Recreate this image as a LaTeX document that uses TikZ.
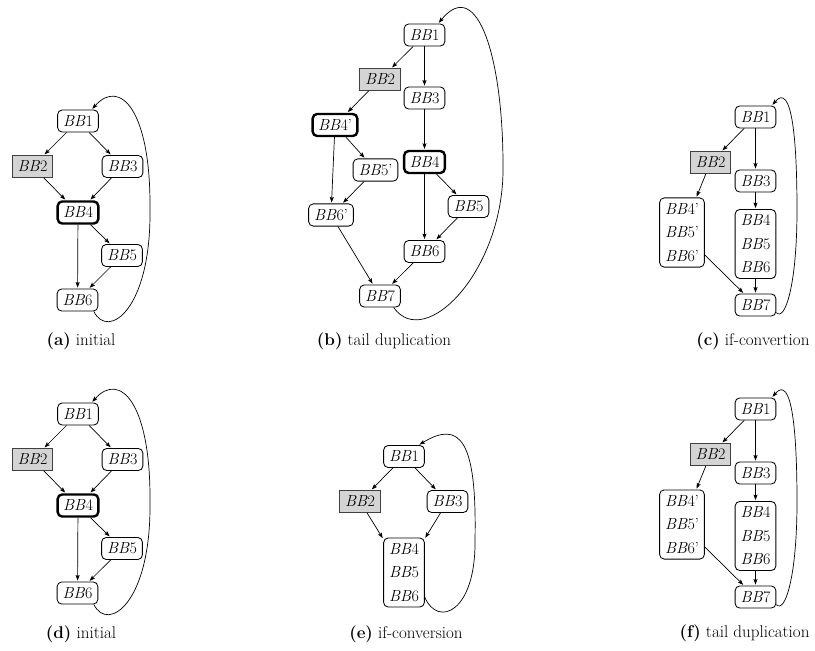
\documentclass[tikz,border=0pt]{standalone}
\usetikzlibrary{arrows.meta}
\newcommand\nodefnt{\fontsize{16}{23.5}\selectfont}
\newcommand\capfnt{\fontsize{17}{21}\selectfont}
\newcommand\bbn[1]{\textit{BB}#1}
\tikzset{
 bb/.style={draw, rounded corners=4.5pt, line width=0.85pt, inner xsep=5.4pt, inner ysep=5.4pt, minimum height=22pt, font=\nodefnt, align=left},
 hot/.style={bb, line width=2.4pt},
 gbox/.style={draw=black!75, fill=black!17, line width=0.7pt, inner xsep=5.4pt, inner ysep=5.4pt, minimum height=22pt, font=\nodefnt},
 arr/.style={-{Stealth[length=5.5pt,width=4pt,inset=1pt]}, line width=0.7pt, shorten >=1pt},
 capt/.style={font=\capfnt}
}
% panel type A: initial
\newcommand\panelA[2]{%
 \node[bb]   (#1n1) at (78,121)    {\bbn1};
 \node[gbox] (#1n2) at (32.5,166.5) {\bbn2};
 \node[bb]   (#1n3) at (122.5,166.5) {\bbn3};
 \node[hot]  (#1n4) at (78,212.5)  {\bbn4};
 \node[bb]   (#1n5) at (122,255.5) {\bbn5};
 \node[bb]   (#1n6) at (77.5,300)  {\bbn6};
 \coordinate (#1m) at (150,210);
 \draw[arr] (#1n1) -- (#1n2);
 \draw[arr] (#1n1) -- (#1n3);
 \draw[arr] (#1n2) -- (#1n4);
 \draw[arr] (#1n3) -- (#1n4);
 \draw[arr] (#1n4) -- (#1n5);
 \draw[arr] (#1n4) -- (#1n6);
 \draw[arr] (#1n5) -- (#1n6);
 \draw[arr] (#1n6.-35) .. controls (108,340) and (151,310) .. (#1m)
   .. controls (151,110) and (120,78) .. (#1n1.40);
 \node[capt] (#1cap) at (81,341) {\textbf{(#1)} #2};
}
% panel type C: if-conversion with duplicated tail
\newcommand\panelC[3]{%
 \node[bb]   (#1n1) at (755.5,117)   {\bbn1};
 \node[gbox] (#1n2) at (710.5,162.5) {\bbn2};
 \node[bb]   (#1n3) at (755.5,181)   {\bbn3};
 \node[bb]   (#1nl) at (682,232.5)   {\bbn4'\\ \bbn5'\\ \bbn6'};
 \node[bb]   (#1nr) at (755.5,244)   {\bbn4\\ \bbn5\\ \bbn6};
 \node[bb]   (#1n7) at (755.5,305)   {\bbn7};
 \coordinate (#1m) at (797,210);
 \draw[arr] (#1n1) -- (#1n2);
 \draw[arr] (#1n1) -- (#1n3);
 \draw[arr] (#1n3) -- (#1nr);
 \draw[arr] (#1n2) -- (#1nl);
 \draw[arr] (#1nr) -- (#1n7);
 \draw[arr] (#1nl) -- (#1n7);
 \draw[arr] (#1n7.-20) .. controls (785,322) and (797,285) .. (#1m)
   .. controls (797,140) and (792,82) .. (#1n1.35);
 \node[capt, anchor=east] (#1cap) at (#3,341) {\textbf{(#1)} #2};
}
\begin{document}
\begin{tikzpicture}[x=1pt,y=-1pt]
\useasboundingbox (0,0) rectangle (815,651);
% (a)
\panelA{a}{initial}
% (d)
\begin{scope}[yshift=-293pt]
\panelA{d}{initial}
\end{scope}
% (c)
\panelC{c}{if-convertion}{813}
% (f)
\begin{scope}[yshift=-292pt]
\panelC{f}{tail duplication}{813}
\end{scope}
% (b)
\node[bb]   (b1)  at (424.5,35)  {\bbn1};
\node[gbox] (b2)  at (380,79.5)  {\bbn2};
\node[bb]   (b3)  at (424.5,98)  {\bbn3};
\node[hot]  (b4p) at (335,125)   {\bbn4'};
\node[hot]  (b4)  at (424.5,162) {\bbn4};
\node[bb]   (b5p) at (375.5,170) {\bbn5'};
\node[bb]   (b5)  at (468.5,206.5) {\bbn5};
\node[bb]   (b6p) at (331,215)   {\bbn6'};
\node[bb]   (b6)  at (424.5,251.5) {\bbn6};
\node[bb]   (b7)  at (380,296)   {\bbn7};
\coordinate (bm) at (503,165);
\draw[arr] (b1) -- (b2);
\draw[arr] (b1) -- (b3);
\draw[arr] (b2) -- (b4p);
\draw[arr] (b3) -- (b4);
\draw[arr] (b4p) -- (b5p);
\draw[arr] (b4p) -- (b6p);
\draw[arr] (b5p) -- (b6p);
\draw[arr] (b4) -- (b5);
\draw[arr] (b4) -- (b6);
\draw[arr] (b5) -- (b6);
\draw[arr] (b6p) -- (b7);
\draw[arr] (b6) -- (b7);
\draw[arr] (b7.-40) .. controls (425,352) and (505,270) .. (bm)
  .. controls (503,60) and (478,-25) .. (b1.40);
\node[capt] (bcap) at (384,341) {\textbf{(b)} tail duplication};
% (e)
\node[bb]   (e1) at (404,456.5)   {\bbn1};
\node[gbox] (e2) at (360,501.5)   {\bbn2};
\node[bb]   (e3) at (447.5,501.5) {\bbn3};
\node[bb]   (eg) at (404,572.5)   {\bbn4\\ \bbn5\\ \bbn6};
\coordinate (em) at (475,540);
\draw[arr] (e1) -- (e2);
\draw[arr] (e1) -- (e3);
\draw[arr] (e2) -- (eg);
\draw[arr] (e3) -- (eg);
\draw[arr] (eg.-50) .. controls (438,628) and (476,612) .. (em)
  .. controls (477,440) and (460,420) .. (e1.38);
\node[capt] (ecap) at (406,634) {\textbf{(e)} if-conversion};
\end{tikzpicture}
\end{document}
